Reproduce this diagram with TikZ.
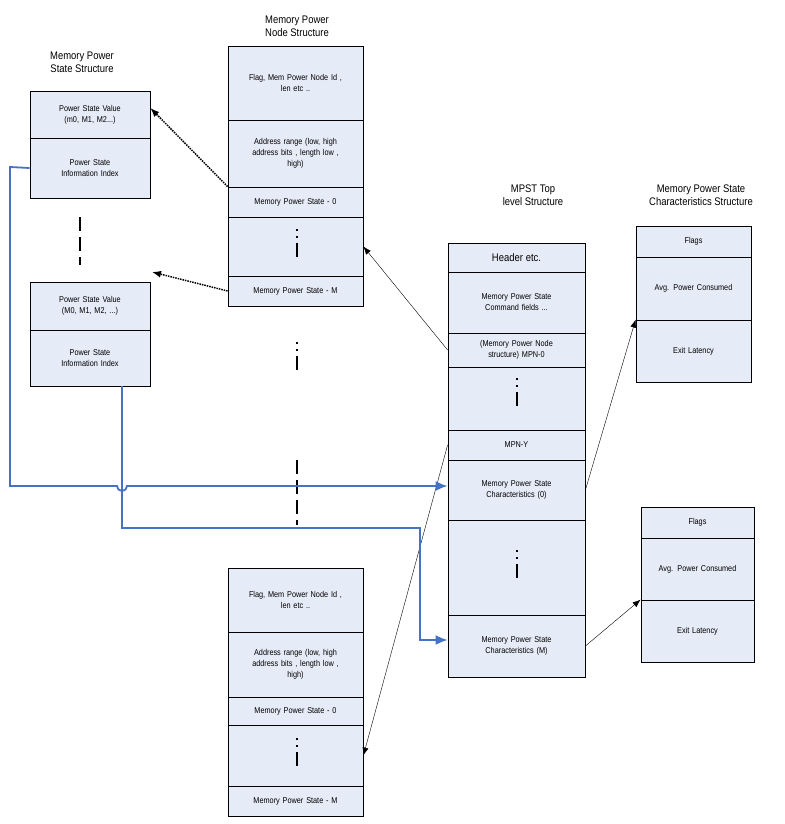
\documentclass[tikz,border=0pt]{standalone}
\usepackage{fontspec}
\setmainfont{Liberation Sans}[FakeStretch=0.86]
\usetikzlibrary{arrows.meta}
\definecolor{cellfill}{RGB}{230,236,247}
\definecolor{linkblue}{RGB}{68,114,196}
\tikzset{
  cell/.style={draw, fill=cellfill, thick, align=center, inner sep=1pt, font=\fontsize{8.5}{11}\selectfont},
  title/.style={align=center, font=\fontsize{11}{13}\selectfont},
  skip/.style={line width=2pt, dash pattern=on 2pt off 5pt on 2pt off 5pt on 14pt off 40pt},
  gap/.style={line width=2pt, dash pattern=on 14pt off 6pt},
  ptr/.style={-{Latex[length=8pt,width=6pt]}, thin},
  dptr/.style={-{Latex[length=9pt,width=7pt]}, line width=1.5pt, densely dotted},
  blink/.style={linkblue, line width=1.8pt},
}
% cell from (x1,y1) to (x2,y2) in pixels
\newcommand{\cell}[6]{\node[cell, minimum width=#4-#2, minimum height=#5-#3, text width=#4-#2-8] (#1) at ({(#2+#4)/2},{(#3+#5)/2}) {#6};}
\begin{document}
\begin{tikzpicture}[x=1pt,y=-1pt]
\useasboundingbox (0,0) rectangle (784,824);

% titles
\node[title] (tNode) at (297,26) {Memory Power\\Node Structure};
\node[title] (tState) at (82,62) {Memory Power\\State Structure};
\node[title] (tMpst) at (533,195) {MPST Top\\level Structure};
\node[title] (tChar) at (701,195) {Memory Power State\\Characteristics Structure};

% memory power state structure
\cell{ps0}{30}{91}{150}{138}{Power State Value\\(m0, M1, M2...)}
\cell{pi0}{30}{138}{150}{198}{Power State\\Information Index}
\cell{psM}{30}{282}{150}{330}{Power State Value\\(M0, M1, M2, ...)}
\cell{piM}{30}{330}{150}{386}{Power State\\Information Index}
\draw[gap] (80,217) -- (80,265);

% memory power node structures
\cell{na}{228}{46}{363}{120}{Flag, Mem Power Node Id ,\\len etc ..}
\cell{nb}{228}{120}{363}{187}{Address range  (low, high\\address bits , length low ,\\high)}
\cell{nc}{228}{187}{363}{217}{Memory Power State  - 0}
\cell{nd}{228}{217}{363}{276}{}
\cell{ne}{228}{276}{363}{306}{Memory Power State  - M}
\draw[skip] (297,229) -- (297,270);

\cell{ma}{228}{568}{363}{632}{Flag, Mem Power Node Id ,\\len etc ..}
\cell{mb}{228}{632}{363}{697}{Address range  (low, high\\address bits , length low ,\\high)}
\cell{mc}{228}{697}{363}{725}{Memory Power State  - 0}
\cell{md}{228}{725}{363}{786}{}
\cell{me}{228}{786}{363}{816}{Memory Power State  - M}
\draw[skip] (297,738) -- (297,780);

\draw[skip] (297,342) -- (297,380);
\draw[gap] (297,460) -- (297,525);

% MPST top level structure
\cell{h}{448}{243}{585}{272}{\fontsize{11}{13}\selectfont Header etc.}
\cell{cmd}{448}{272}{585}{333}{Memory Power State\\Command fields ...}
\cell{mpn0}{448}{333}{585}{367}{(Memory Power Node\\structure) MPN-0}
\cell{mdots}{448}{367}{585}{430}{}
\cell{mpnY}{448}{430}{585}{460}{MPN-Y}
\cell{ch0}{448}{460}{585}{520}{Memory Power State\\Characteristics (0)}
\cell{cdots}{448}{520}{585}{615}{}
\cell{chM}{448}{615}{585}{677}{Memory Power State\\Characteristics (M)}
\draw[skip] (517,378) -- (517,420);
\draw[skip] (517,550) -- (517,590);

% characteristics structures
\cell{fa}{636}{226}{751}{257}{Flags}
\cell{pa}{636}{257}{751}{320}{Avg. Power Consumed}
\cell{la}{636}{320}{751}{382}{Exit Latency}
\cell{fb}{641}{507}{754}{538}{Flags}
\cell{pb}{641}{538}{754}{600}{Avg. Power Consumed}
\cell{lb}{641}{600}{754}{662}{Exit Latency}

% pointers
\draw[dptr] (nc.north west) -- (ps0.north east |- 0,108) coordinate (d0);
\draw[dptr] (ne.west) -- (152,272) coordinate (dM);
\draw[ptr] (mpn0.west) -- (nd.east);
\draw[ptr] (mpnY.west) -- (md.east);
\draw[ptr] (ch0.east) -- (la.north west);
\draw[ptr] (chM.east) -- (lb.north west);

% blue links
\draw[blink, -{Latex[length=12pt,width=10pt]}] (pi0.west) -- (10,167) -- (10,486) -- (117,486) arc[start angle=180, end angle=0, radius=5] -- (ch0.west |- 0,486);
\draw[blink, -{Latex[length=12pt,width=10pt]}] (122,386) -- (122,528) -- (420,528) -- (420,640) -- (chM.west |- 0,640);
\end{tikzpicture}
\end{document}
